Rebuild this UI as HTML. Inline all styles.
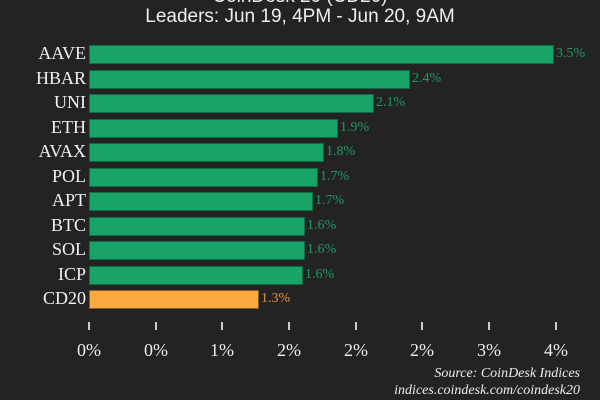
<!DOCTYPE html>
<html><head><style>
body{margin:0;width:600px;height:400px;background:#232323;overflow:hidden;position:relative;font-family:"Liberation Serif",serif;}
.t{position:absolute;left:0;width:600px;text-align:center;color:#eee;font-family:"Liberation Sans",sans-serif;font-size:19px;}
.l{position:absolute;right:514px;color:#f2f2f2;font-size:18px;text-align:right;}
.b{position:absolute;left:89px;height:19px;background:#17a466;border:1px solid #0e6b43;box-sizing:border-box;}
.v{position:absolute;color:#1f9a63;font-size:14px;}
.tk{position:absolute;top:322px;width:2px;height:8px;background:#ccc;}
.x{position:absolute;top:340px;width:60px;text-align:center;color:#eee;font-size:18px;}
.s{position:absolute;right:20px;color:#eee;font-style:italic;font-size:14px;}
</style></head><body>
<div class="t" style="top:-14px">CoinDesk 20 (CD20)</div>
<div class="t" style="top:6px">Leaders: Jun 19, 4PM - Jun 20, 9AM</div>

<div class="l" style="top:43px">AAVE</div><div class="b" style="top:45px;width:465px"></div><div class="v" style="top:46px;left:556px">3.5%</div>
<div class="l" style="top:68px">HBAR</div><div class="b" style="top:70px;width:321px"></div><div class="v" style="top:71px;left:412px">2.4%</div>
<div class="l" style="top:92px">UNI</div><div class="b" style="top:94px;width:285px"></div><div class="v" style="top:95px;left:376px">2.1%</div>
<div class="l" style="top:117px">ETH</div><div class="b" style="top:119px;width:249px"></div><div class="v" style="top:120px;left:340px">1.9%</div>
<div class="l" style="top:141px">AVAX</div><div class="b" style="top:143px;width:235px"></div><div class="v" style="top:144px;left:326px">1.8%</div>
<div class="l" style="top:166px">POL</div><div class="b" style="top:168px;width:229px"></div><div class="v" style="top:169px;left:320px">1.7%</div>
<div class="l" style="top:190px">APT</div><div class="b" style="top:192px;width:224px"></div><div class="v" style="top:193px;left:315px">1.7%</div>
<div class="l" style="top:215px">BTC</div><div class="b" style="top:217px;width:216px"></div><div class="v" style="top:218px;left:307px">1.6%</div>
<div class="l" style="top:239px">SOL</div><div class="b" style="top:241px;width:216px"></div><div class="v" style="top:242px;left:307px">1.6%</div>
<div class="l" style="top:264px">ICP</div><div class="b" style="top:266px;width:214px"></div><div class="v" style="top:267px;left:305px">1.6%</div>
<div class="l" style="top:288px">CD20</div><div class="b" style="top:290px;width:170px;background:#fcaa3f;border-color:#8a5c20"></div><div class="v" style="top:291px;left:261px;color:#e0963a">1.3%</div>

<div class="tk" style="left:88px"></div><div class="tk" style="left:155px"></div><div class="tk" style="left:221px"></div><div class="tk" style="left:288px"></div><div class="tk" style="left:355px"></div><div class="tk" style="left:421px"></div><div class="tk" style="left:488px"></div><div class="tk" style="left:555px"></div>
<div class="x" style="left:59px">0%</div><div class="x" style="left:126px">0%</div><div class="x" style="left:192px">1%</div><div class="x" style="left:259px">2%</div><div class="x" style="left:326px">2%</div><div class="x" style="left:392px">2%</div><div class="x" style="left:459px">3%</div><div class="x" style="left:526px">4%</div>

<div class="s" style="top:366px">Source: CoinDesk Indices</div>
<div class="s" style="top:383px">indices.coindesk.com/coindesk20</div>
</body></html>
